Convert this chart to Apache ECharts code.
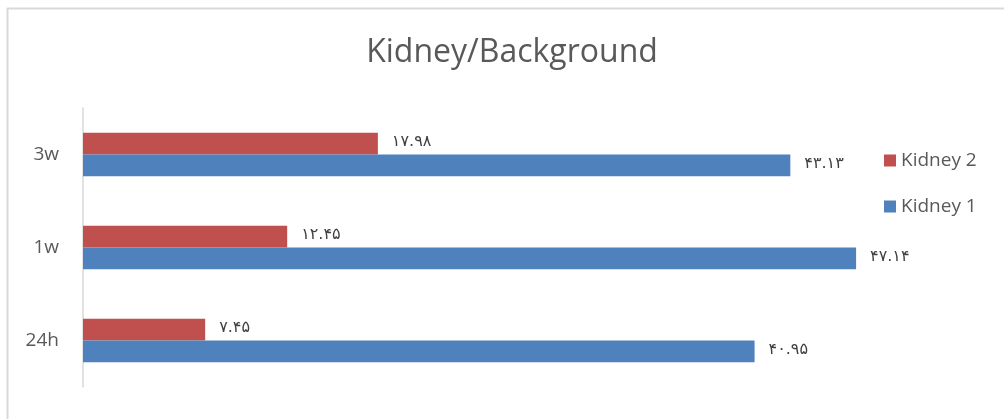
<!DOCTYPE html>
<html>
<head>
<meta charset="utf-8">
<script src="https://cdn.jsdelivr.net/npm/echarts@6/dist/echarts.min.js"></script>
<style>html,body{margin:0;padding:0;background:#fff}#c{width:1004px;height:419px}</style>
</head>
<body>
<div id="c"></div>
<script>
const categories = ['24h', '1w', '3w'];
const kidney1 = [40.95, 47.14, 43.13];
const kidney2 = [7.45, 12.45, 17.98];

const persianDigits = '۰۱۲۳۴۵۶۷۸۹';
function toPersian(v) {
  return v.toFixed(2).replace(/[0-9]/g, d => persianDigits[+d]);
}

const chart = echarts.init(document.getElementById('c'));
const labelCfg = {
  show: true,
  position: 'right',
  distance: 14,
  fontFamily: 'DejaVu Sans',
  fontSize: 16,
  color: '#404040',
  offset: [0, -2],
  formatter: p => toPersian(p.value)
};
chart.setOption({
  animation: false,
  backgroundColor: '#fff',
  title: {
    text: 'Kidney/Background',
    left: 512, top: 37, textAlign: 'center', padding: 0,
    textStyle: { fontFamily: 'Open Sans', fontSize: 32, fontWeight: 'normal', color: '#595959' }
  },
  legend: {
    data: ['Kidney 2', 'Kidney 1'],
    orient: 'vertical',
    left: 884, top: 151, padding: 0,
    itemWidth: 12, itemHeight: 12, itemGap: 27,
    icon: 'rect',
    textStyle: { fontFamily: 'Open Sans', fontSize: 19, color: '#595959' }
  },
  grid: { left: 83, right: 101, top: 108, bottom: 32, containLabel: false },
  xAxis: {
    type: 'value', min: 0, max: 50,
    show: false
  },
  yAxis: {
    type: 'category', data: categories,
    axisLine: { show: true, lineStyle: { color: '#d9d9d9', width: 1.5 } },
    axisTick: { show: false },
    axisLabel: { fontFamily: 'Open Sans', fontSize: 19, color: '#595959', margin: 24 }
  },
  series: [
    { name: 'Kidney 2', type: 'bar', data: kidney2, barGap: '0%', barCategoryGap: '53%',
      itemStyle: { color: '#C0504D' }, label: labelCfg },
    { name: 'Kidney 1', type: 'bar', data: kidney1, barGap: '0%', barCategoryGap: '53%',
      itemStyle: { color: '#4F81BD' }, label: labelCfg }
  ],
  graphic: [
    { type: 'line', shape: { x1: 7, y1: 8.5, x2: 1004, y2: 8.5 }, style: { stroke: '#d9d9d9', lineWidth: 2 } },
    { type: 'line', shape: { x1: 7.5, y1: 8, x2: 7.5, y2: 419 }, style: { stroke: '#d9d9d9', lineWidth: 2 } }
  ]
});
</script>
</body>
</html>
